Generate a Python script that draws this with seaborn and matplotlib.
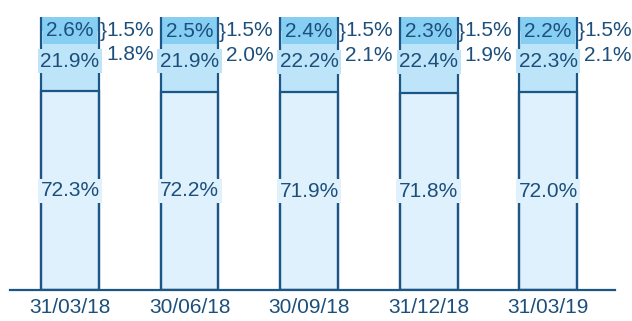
import matplotlib
matplotlib.use("Agg")
import matplotlib.pyplot as plt
import seaborn as sns
import numpy as np

# Quarter-end dates
dates = ["31/03/18", "30/06/18", "30/09/18", "31/12/18", "31/03/19"]

# Composition shares (%) per quarter, bottom to top
share_main = [72.3, 72.2, 71.9, 71.8, 72.0]
share_second = [21.9, 21.9, 22.2, 22.4, 22.3]
share_third = [2.6, 2.5, 2.4, 2.3, 2.2]
share_fourth = [1.8, 2.0, 2.1, 1.9, 2.1]
share_fifth = [1.5, 1.5, 1.5, 1.5, 1.5]

layers = [share_main, share_second, share_third, share_fourth, share_fifth]
layer_colors = ["#dff1fc", "#bde4f8", "#86cff3", "#86cff3", "#86cff3"]

text_color = "#1c4f7c"
edge_color = "#1b5686"
bar_width = 0.485

sns.set_style("white")
plt.rcParams["font.family"] = ["Liberation Sans", "DejaVu Sans"]

fig = plt.figure(figsize=(6.32, 3.21), dpi=100)
ax = fig.add_axes([10 / 632, 31 / 321, 605 / 632, 273 / 321])

tops = np.cumsum(np.array(layers), axis=0)

# Stacked bars: draw cumulative heights from the top layer down
for k in range(len(layers) - 1, -1, -1):
    sns.barplot(x=dates, y=tops[k], color=layer_colors[k], saturation=1,
                width=bar_width, ax=ax, zorder=1 + 0.01 * (5 - k),
                linewidth=0)

# Edge on the main segment (draws the boundary line above it)
sns.barplot(x=dates, y=tops[0], fill=False, color=edge_color,
            width=bar_width, ax=ax, linewidth=1.6, zorder=2.5)
# Outline of the full bar
sns.barplot(x=dates, y=tops[-1], fill=False, color=edge_color,
            width=bar_width, ax=ax, linewidth=1.6, zorder=2.5)

fs = 15
half = bar_width / 2
for i in range(len(dates)):
    # Main segment label
    y0 = share_main[i] / 2
    ax.text(i, y0, f"{share_main[i]:.1f}%", ha="center", va="center",
            fontsize=fs, color=text_color, zorder=3,
            bbox=dict(boxstyle="square,pad=0.12", fc=layer_colors[0], ec="none"))
    # Second segment label
    y1 = tops[0][i] + share_second[i] / 2
    ax.text(i, y1, f"{share_second[i]:.1f}%", ha="center", va="center",
            fontsize=fs, color=text_color, zorder=3,
            bbox=dict(boxstyle="square,pad=0.12", fc=layer_colors[1], ec="none"))
    # Third segment label
    y2 = tops[1][i] + share_third[i] / 2
    ax.annotate(f"{share_third[i]:.1f}%", xy=(i, y2), xytext=(0, -2.5),
                textcoords="offset points", ha="center", va="center",
                fontsize=fs, color=text_color, zorder=2.2,
                bbox=dict(boxstyle="square,pad=0.16", fc=layer_colors[2], ec="none"))
    # Thin segments labelled beside the bar
    ax.annotate("}", xy=(i + half, y2), xytext=(0.4, -3), textcoords="offset points",
                ha="left", va="center", fontsize=15, color=text_color,
                annotation_clip=False)
    ax.annotate(f"{share_fifth[i]:.1f}%", xy=(i + half, y2), xytext=(5.2, -2),
                textcoords="offset points", ha="left", va="center",
                fontsize=fs, color=text_color, annotation_clip=False)
    ax.annotate(f"{share_fourth[i]:.1f}%", xy=(i + half, y1), xytext=(5.2, 4.5),
                textcoords="offset points", ha="left", va="center",
                fontsize=fs, color=text_color, annotation_clip=False)

ax.set_xlim(-0.502, 4.56)
ax.set_ylim(0, 99.3)
ax.set_yticks([])
ax.set_xlabel("")
ax.set_ylabel("")
for side in ["top", "left", "right"]:
    ax.spines[side].set_visible(False)
ax.spines["bottom"].set_color(edge_color)
ax.spines["bottom"].set_linewidth(1.6)
ax.spines["bottom"].set_zorder(4)
ax.tick_params(axis="x", length=0, pad=5.5, labelsize=fs, labelcolor=text_color)
ax.patch.set_alpha(0)

fig.savefig("out.png", dpi=100)
